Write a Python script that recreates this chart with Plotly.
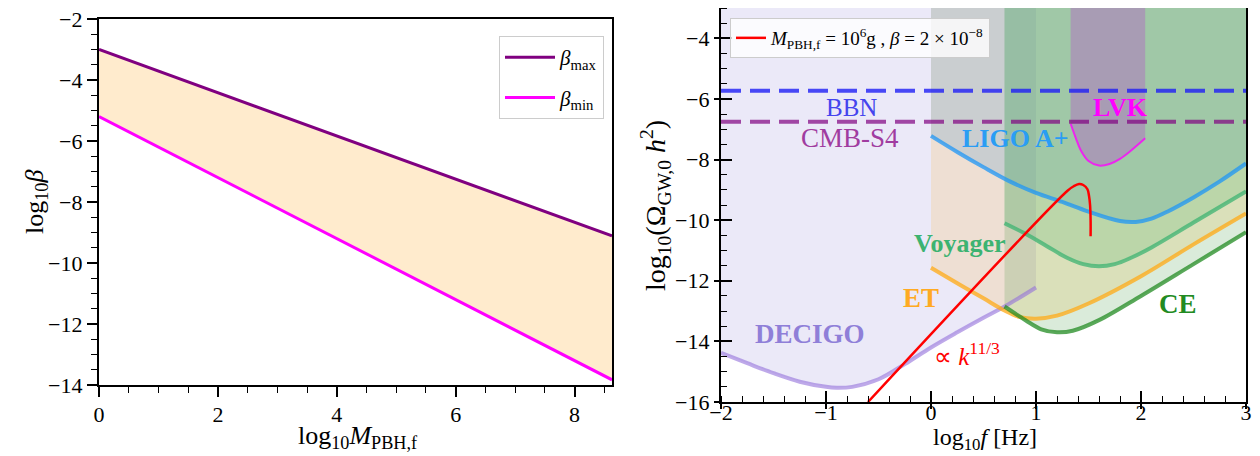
import plotly.graph_objects as go

# ---------------- Left panel data ----------------
m_x = [0.0, 2.0, 4.0, 6.0, 8.0, 8.63]
beta_max = [-3.0, -4.42, -5.83, -7.25, -8.67, -9.11]
beta_min = [-5.2, -7.2, -9.2, -11.2, -13.2, -13.83]

# ---------------- Right panel data ----------------
decigo_x = [-2.0, -1.75, -1.5, -1.25, -1.0, -0.9, -0.75, -0.5, -0.25, 0.0, 0.25, 0.5, 0.7, 1.0]
decigo_y = [-14.38, -14.72, -15.05, -15.33, -15.5, -15.53, -15.5, -15.25, -14.75, -14.2, -13.7, -13.22, -12.85, -12.22]

et_x = [0.0, 0.25, 0.5, 0.7, 0.85, 1.0, 1.2, 1.5, 2.0, 2.5, 3.0]
et_y = [-11.57, -12.08, -12.58, -12.98, -13.2, -13.25, -13.15, -12.75, -11.85, -10.8, -9.78]

ligo_x = [0.0, 0.25, 0.5, 0.75, 1.0, 1.25, 1.5, 1.8, 1.95, 2.1, 2.25, 2.5, 2.75, 3.0]
ligo_y = [-7.22, -7.75, -8.25, -8.72, -9.1, -9.4, -9.72, -10.03, -10.06, -9.95, -9.72, -9.25, -8.72, -8.13]

voy_x = [0.7, 0.9, 1.1, 1.3, 1.45, 1.6, 1.75, 1.9, 2.1, 2.5, 3.0]
voy_y = [-10.1, -10.45, -10.85, -11.25, -11.45, -11.52, -11.45, -11.25, -10.9, -10.08, -9.05]

ce_x = [0.7, 0.9, 1.05, 1.2, 1.35, 1.6, 2.0, 2.5, 3.0]
ce_y = [-12.85, -13.3, -13.6, -13.7, -13.65, -13.3, -12.5, -11.45, -10.4]

lvk_x = [1.33, 1.38, 1.43, 1.5, 1.6, 1.7, 1.8, 1.9, 2.04]
lvk_y = [-6.82, -7.3, -7.72, -8.05, -8.2, -8.15, -7.98, -7.72, -7.3]

red_x = [-0.6, 1.3, 1.36, 1.41, 1.45, 1.49, 1.505, 1.515, 1.52, 1.52]
red_y = [-16.0, -9.03, -8.88, -8.81, -8.84, -8.98, -9.2, -9.5, -10.0, -10.53]

bbn_level = -5.73
cmb_level = -6.75
f_range = [-2.0, 3.0]
omega_top = -3.0

SERIF = "Liberation Serif"

# The page body has an 8 px margin, so the figure is 8 px smaller and offset.
W, H, OFF = 1252, 448, 8


def px(x):
    return (x - OFF) / W


def py(y):
    return 1 - (y - OFF) / H


fig = go.Figure()

# ---------- left panel ----------
fig.add_trace(go.Scatter(x=m_x + m_x[::-1], y=beta_max + beta_min[::-1], fill="toself",
                         fillcolor="rgb(255,235,205)", line=dict(width=0), mode="lines",
                         showlegend=False, hoverinfo="skip", xaxis="x", yaxis="y"))
fig.add_trace(go.Scatter(x=m_x, y=beta_max, mode="lines", line=dict(color="#800080", width=3),
                         name="<i>β</i><sub>max</sub>", legend="legend", legendgroup="a",
                         xaxis="x", yaxis="y"))
fig.add_trace(go.Scatter(x=m_x, y=beta_min, mode="lines", line=dict(color="#ff00ff", width=3),
                         name="<i>β</i><sub>min</sub>", legend="legend", legendgroup="b",
                         xaxis="x", yaxis="y"))


# ---------- right panel fills ----------
def add_fill(xs, ys, color):
    fig.add_trace(go.Scatter(x=xs + [xs[-1], xs[0]], y=ys + [omega_top, omega_top], fill="toself",
                             fillcolor=color, line=dict(width=0), mode="lines",
                             showlegend=False, hoverinfo="skip", xaxis="x2", yaxis="y2"))


add_fill(decigo_x, decigo_y, "rgba(120,110,210,0.15)")
add_fill(et_x, et_y, "rgba(255,165,0,0.15)")
add_fill(ligo_x, ligo_y, "rgba(60,140,200,0.2)")
add_fill(voy_x, voy_y, "rgba(60,179,113,0.19)")
add_fill(ce_x, ce_y, "rgba(34,139,34,0.17)")
add_fill(lvk_x, lvk_y, "rgba(180,90,200,0.4)")


def add_curve(xs, ys, color, width):
    fig.add_trace(go.Scatter(x=xs, y=ys, mode="lines", line=dict(color=color, width=width, shape="spline"),
                             showlegend=False, hoverinfo="skip", xaxis="x2", yaxis="y2"))


add_curve(decigo_x, decigo_y, "rgba(147,112,219,0.6)", 4)
add_curve(et_x, et_y, "rgba(255,170,20,0.75)", 4)
add_curve(ligo_x, ligo_y, "rgba(30,150,245,0.75)", 4)
add_curve(voy_x, voy_y, "rgba(60,179,113,0.75)", 4)
add_curve(ce_x, ce_y, "rgba(34,139,34,0.75)", 4)
add_curve(lvk_x, lvk_y, "rgba(255,0,255,0.8)", 2)

fig.add_trace(go.Scatter(x=f_range, y=[bbn_level, bbn_level], mode="lines",
                         line=dict(color="rgba(30,30,245,0.8)", width=4, dash="20px,9px"),
                         showlegend=False, hoverinfo="skip", xaxis="x2", yaxis="y2"))
fig.add_trace(go.Scatter(x=f_range, y=[cmb_level, cmb_level], mode="lines",
                         line=dict(color="rgba(128,0,128,0.7)", width=4, dash="20px,9px"),
                         showlegend=False, hoverinfo="skip", xaxis="x2", yaxis="y2"))

fig.add_trace(go.Scatter(x=red_x, y=red_y, mode="lines", line=dict(color="red", width=2.5, shape="spline"),
                         name="<i>M</i><sub>PBH,f</sub> = 10<sup>6</sup>g , <i>β</i> = 2 × 10<sup>−8</sup>",
                         legend="legend2", xaxis="x2", yaxis="y2"))

# invisible trace that carries the overlay axes (inner half of the major ticks)
fig.add_trace(go.Scatter(x=[f_range[0]], y=[-16.0], mode="markers", marker=dict(opacity=0),
                         showlegend=False, hoverinfo="skip", xaxis="x3", yaxis="y3"))

# ---------- labels ----------
labels = [
    ("BBN", -0.755, -6.28, "#4545ee", False, 25),
    ("CMB-S4", -0.77, -7.3, "#a03ca0", False, 27),
    ("LIGO A+", 0.8, -7.3, "#2a9df4", True, 26),
    ("LVK", 1.8, -6.28, "#ff00ff", True, 26),
    ("Voyager", 0.276, -10.77, "#3cb371", True, 26),
    ("ET", -0.1, -12.58, "#ffaa22", True, 27),
    ("CE", 2.35, -12.75, "#228b22", True, 27),
    ("DECIGO", -1.15, -13.77, "#8f7fd8", True, 27),
]
annotations = []
for txt, lx, ly, col, bold, size in labels:
    annotations.append(dict(x=lx, y=ly, xref="x2", yref="y2", showarrow=False,
                            xanchor="center", yanchor="middle",
                            text=f"<b>{txt}</b>" if bold else txt,
                            font=dict(family=SERIF, size=size, color=col)))
annotations.append(dict(x=0.34, y=-14.42, xref="x2", yref="y2", showarrow=False,
                        xanchor="center", yanchor="middle",
                        text="∝ <i>k</i><sup>11/3</sup>", font=dict(family=SERIF, size=25, color="red")))

# axis titles
TF = dict(family=SERIF, size=26, color="black")
annotations += [
    dict(x=px(36), y=py(202), xref="paper", yref="paper", showarrow=False, textangle=-90,
         xanchor="center", yanchor="middle", text="log<sub>10</sub><i>β</i>", font=TF),
    dict(x=px(358), y=py(437), xref="paper", yref="paper", showarrow=False,
         xanchor="center", yanchor="middle", text="log<sub>10</sub><i>M</i><sub>PBH,f</sub>", font=TF),
    dict(x=px(656), y=py(205), xref="paper", yref="paper", showarrow=False, textangle=-90,
         xanchor="center", yanchor="middle",
         text="log<sub>10</sub>(Ω<sub>GW,0</sub> <i>h</i><sup>2</sup>)",
         font=dict(family=SERIF, size=28, color="black")),
    dict(x=px(985), y=py(439), xref="paper", yref="paper", showarrow=False,
         xanchor="center", yanchor="middle", text="log<sub>10</sub><i>f</i> [Hz]",
         font=dict(family=SERIF, size=24, color="black")),
]


def axis(domain, rng, dtick, minor, anchor, tick0, major_len, minor_len, minor_dir, standoff=0):
    return dict(domain=domain, range=rng, dtick=dtick, tick0=tick0, anchor=anchor,
                showgrid=False, zeroline=False, showline=True, mirror=True, linewidth=2.2, linecolor="black",
                ticks="outside", ticklen=major_len, tickwidth=1.5, tickcolor="black",
                minor=dict(dtick=minor, ticks=minor_dir, ticklen=minor_len, tickwidth=1.2, tickcolor="black",
                           showgrid=False),
                ticklabelstandoff=standoff, ticklabeloverflow="allow",
                tickfont=dict(family=SERIF, size=22, color="black"), automargin=False)


EPS = 1e-6
fig.update_layout(
    width=W, height=H, margin=dict(l=0, r=0, t=0, b=0),
    paper_bgcolor="white", plot_bgcolor="white",
    xaxis=axis([px(99), px(612)], [0, 8.63], 2, 0.5, "y", 0, 10, 6, "outside", -2),
    yaxis=axis([py(385), py(19)], [-14 - EPS, -2 + EPS], 2, 0.5, "x", -14, 10, 6, "outside"),
    xaxis2=axis([px(721), px(1246)], [-2 - EPS, 3 + EPS], 1, 0.2, "y2", -2, 5, 6, "inside", -16),
    yaxis2=axis([py(402), py(8)], [-16 - EPS, -3], 2, 0.5, "x2", -16, 5, 6, "inside"),
    xaxis3=dict(overlaying="x2", anchor="y2", side="bottom", range=[-2 - EPS, 3 + EPS], dtick=1, tick0=-2,
                ticks="inside", ticklen=11, tickwidth=1.5, tickcolor="black", showticklabels=False,
                showline=False, showgrid=False, zeroline=False),
    yaxis3=dict(overlaying="y2", anchor="x2", side="left", range=[-16 - EPS, -3], dtick=2, tick0=-16,
                ticks="inside", ticklen=11, tickwidth=1.5, tickcolor="black", showticklabels=False,
                showline=False, showgrid=False, zeroline=False),
    legend=dict(x=px(604), y=py(36), xanchor="right", yanchor="top", itemwidth=50,
                bgcolor="white", bordercolor="#cccccc", borderwidth=1, tracegroupgap=10,
                font=dict(family=SERIF, size=21, color="black")),
    legend2=dict(x=px(730), y=py(18), xanchor="left", yanchor="top",
                 bgcolor="rgba(255,255,255,0.8)", bordercolor="#cccccc", borderwidth=1,
                 font=dict(family=SERIF, size=19, color="black")),
    annotations=annotations,
    showlegend=True,
)

fig.write_html("out.html")
